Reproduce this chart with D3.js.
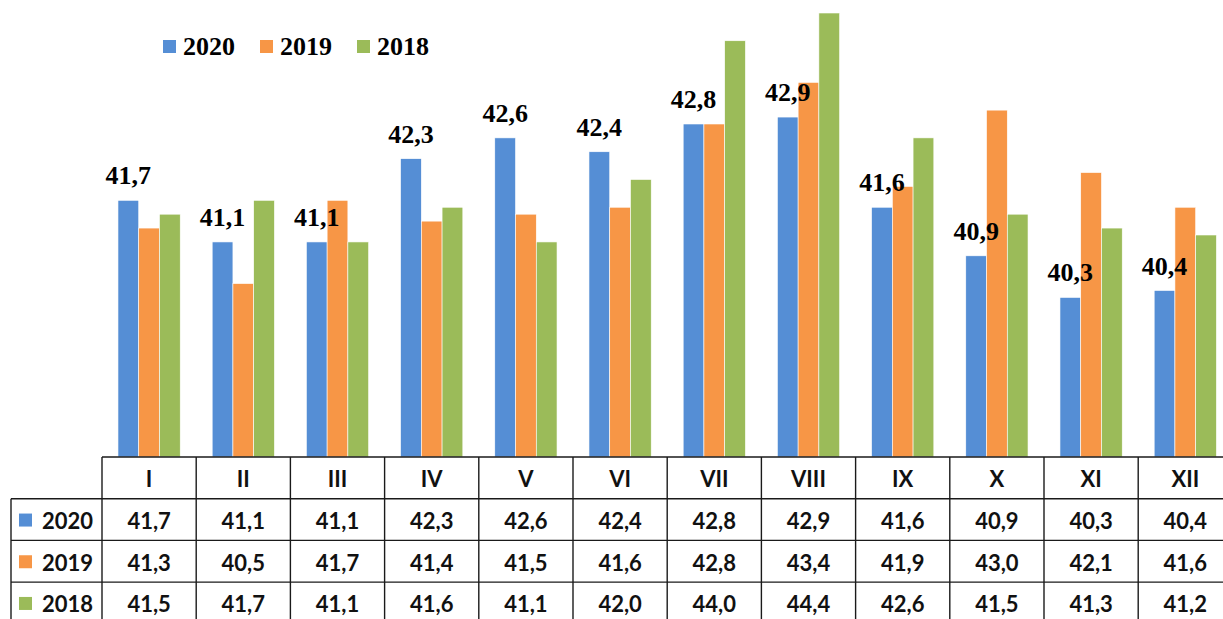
<!DOCTYPE html>
<html>
<head>
<meta charset="utf-8">
<script src="https://cdnjs.cloudflare.com/ajax/libs/d3/7.8.5/d3.min.js"></script>
<style>
  body { margin: 0; background: #fff; }
  svg { display: block; }
</style>
</head>
<body>
<div class="c_chart"></div>
<script>
/* DATA
------------------------------------------------------ */
const months = ["I", "II", "III", "IV", "V", "VI", "VII", "VIII", "IX", "X", "XI", "XII"];
const series = ["2020", "2019", "2018"];
const v2020 = [41.7, 41.1, 41.1, 42.3, 42.6, 42.4, 42.8, 42.9, 41.6, 40.9, 40.3, 40.4];
const v2019 = [41.3, 40.5, 41.7, 41.4, 41.5, 41.6, 42.8, 43.4, 41.9, 43.0, 42.1, 41.6];
const v2018 = [41.5, 41.7, 41.1, 41.6, 41.1, 42.0, 44.0, 44.4, 42.6, 41.5, 41.3, 41.2];
const colors = ["#558ED5", "#F79646", "#9BBB59"];

const values = { "2020": v2020, "2019": v2019, "2018": v2018 };

/* SVG
------------------------------------------------------ */
const width = 1223;
const height = 619;

const svg = d3.select(".c_chart")
	.append("svg")
	.attr("width", width)
	.attr("height", height);

const fmt = v => d3.format(".1f")(v).replace(".", ",");

/* SCALES
------------------------------------------------------ */
const tableLeft = 102;
const colW = 94.2;
const base = 457;
const rowH = 41.7;

const x0 = d3.scaleBand()
	.domain(months)
	.range([tableLeft, tableLeft + colW * months.length]);

const x1 = d3.scaleBand()
	.domain(series)
	.range([0, x0.bandwidth()])
	.paddingOuter(0.77);

const y = d3.scaleLinear()
	.domain([38, 44.4])
	.range([base, 13]);

const color = d3.scaleOrdinal().domain(series).range(colors);

/* BARS
------------------------------------------------------ */
const groups = svg.append("g")
	.selectAll("g")
	.data(months)
	.enter()
	.append("g")
	.attr("transform", d => `translate(${x0(d)},0)`);

groups.selectAll("rect")
	.data((m, i) => series.map(s => ({ s: s, v: values[s][i] })))
	.enter()
	.append("rect")
	.attr("x", d => x1(d.s))
	.attr("y", d => y(d.v))
	.attr("width", x1.bandwidth())
	.attr("height", d => base - y(d.v))
	.attr("fill", d => color(d.s))
	.attr("stroke", "#fff")
	.attr("stroke-width", 0.6);

// data labels (2020 only)
groups.append("text")
	.attr("x", x1("2020") + x1.bandwidth() / 2)
	.attr("y", (m, i) => y(v2020[i]) - 16)
	.attr("text-anchor", "middle")
	.style("font-family", "'Liberation Serif', 'Times New Roman', serif")
	.style("font-weight", "bold")
	.style("font-size", "26px")
	.text((m, i) => fmt(v2020[i]));

/* LEGEND
------------------------------------------------------ */
const legX = [163, 260, 357];
const legend = svg.append("g")
	.selectAll("g")
	.data(series)
	.enter()
	.append("g")
	.attr("transform", (d, i) => `translate(${legX[i]},40)`);

legend.append("rect")
	.attr("width", 13)
	.attr("height", 13)
	.attr("fill", d => color(d));

legend.append("text")
	.attr("x", 20)
	.attr("y", 15)
	.style("font-family", "'Liberation Serif', 'Times New Roman', serif")
	.style("font-weight", "bold")
	.style("font-size", "26px")
	.text(d => d);

/* TABLE
------------------------------------------------------ */
const table = svg.append("g");
const tableRight = tableLeft + colW * months.length;
const lineStyle = sel => sel.attr("stroke", "#1a1a1a").attr("stroke-width", 1.4).attr("fill", "none");

// horizontal lines
table.append("line").attr("x1", tableLeft).attr("x2", tableRight)
	.attr("y1", base).attr("y2", base).call(lineStyle);
d3.range(1, 4).forEach(r => {
	table.append("line").attr("x1", 11).attr("x2", tableRight)
		.attr("y1", base + r * rowH).attr("y2", base + r * rowH).call(lineStyle);
});
// vertical lines
months.forEach(m => {
	table.append("line").attr("x1", x0(m)).attr("x2", x0(m))
		.attr("y1", base).attr("y2", height).call(lineStyle);
});
table.append("line").attr("x1", 11).attr("x2", 11)
	.attr("y1", base + rowH).attr("y2", height).call(lineStyle);

const cellFont = sel => sel
	.style("font-family", "Lato, 'Open Sans', sans-serif")
	.style("font-weight", "bold")
	.style("font-size", "22px")
	.attr("dominant-baseline", "central")
	.attr("fill", "#111");

// header
table.selectAll("text.head")
	.data(months)
	.enter()
	.append("text")
	.attr("class", "head")
	.attr("x", d => x0(d) + colW / 2)
	.attr("y", base + rowH / 2 + 1)
	.attr("text-anchor", "middle")
	.call(cellFont)
	.text(d => d);

// rows
series.forEach((s, r) => {
	const cy = base + (r + 1) * rowH + rowH / 2 + 1;
	table.append("rect")
		.attr("x", 19).attr("y", cy - 7)
		.attr("width", 13).attr("height", 13)
		.attr("fill", color(s));
	table.append("text")
		.attr("x", 42).attr("y", cy)
		.call(cellFont)
		.text(s);
	table.selectAll("text.r" + s)
		.data(values[s])
		.enter()
		.append("text")
		.attr("class", "r" + s)
		.attr("x", (d, i) => x0(months[i]) + colW / 2)
		.attr("y", cy)
		.attr("text-anchor", "middle")
		.call(cellFont)
		.text(d => fmt(d));
});
</script>
</body>
</html>
